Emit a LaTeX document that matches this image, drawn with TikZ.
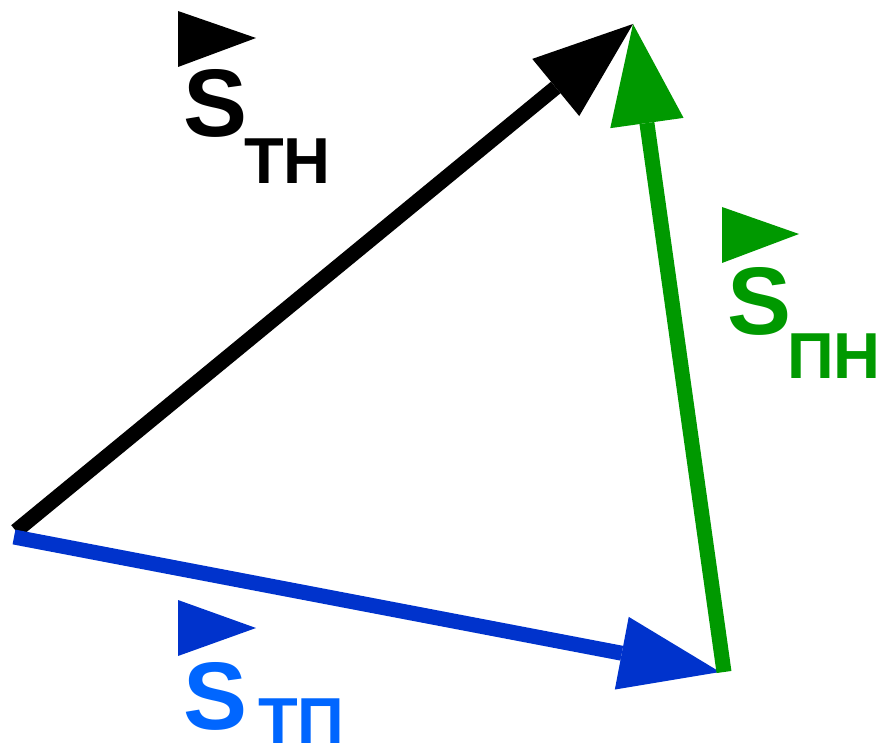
\documentclass[tikz,border=0pt]{standalone}
\usepackage{fontspec}
\setmainfont{Liberation Sans}
\usetikzlibrary{arrows.meta}
\definecolor{vblue}{RGB}{0,51,204}
\definecolor{vlblue}{RGB}{0,102,255}
\definecolor{vgreen}{RGB}{0,153,0}
\tikzset{
  vec/.style={line width=15pt, -{Triangle[length=100pt, width=74pt, line width=0pt]}},
  vsym/.style={font=\fontsize{96}{96}\selectfont\bfseries, inner sep=0pt, anchor=base west},
  vsub/.style={font=\fontsize{65}{65}\selectfont\bfseries, inner sep=0pt, anchor=base west}
}
\begin{document}
\begin{tikzpicture}[x=1pt, y=-1pt]
    \useasboundingbox (0,0) rectangle (876,743);
    % Points
    \coordinate (O1) at (16,531);
    \coordinate (O2) at (14,537);
    \coordinate (N) at (633,24);
    \coordinate (P) at (720,672);
    \coordinate (P2) at (724,672);
    
    % Vectors
    \draw[vec, black] (O1) -- (N);
    \draw[vec, vblue] (O2) -- (P);
    \draw[vec, vgreen] (P2) -- (N);
    
    % Label S_TH
    \fill[black] (178,11) -- (256,38) -- (178,67) -- cycle;
    \node[vsym, black] (sTH) at (183,137) {S};
    \node[vsub, black] (iTH) at (244,184) {ТН};
    
    % Label S_PH
    \fill[vgreen] (722,207) -- (799,234) -- (722,263) -- cycle;
    \node[vsym, vgreen] (sPH) at (727,335) {S};
    \node[vsub, vgreen] (iPH) at (787,379) {ПН};
    
    % Label S_TP
    \fill[vblue] (178,600) -- (256,628) -- (178,656) -- cycle;
    \node[vsym, vlblue] (sTP) at (183,729) {S};
    \node[vsub, vlblue] (iTP) at (258,743) {ТП};
\end{tikzpicture}
\end{document}
